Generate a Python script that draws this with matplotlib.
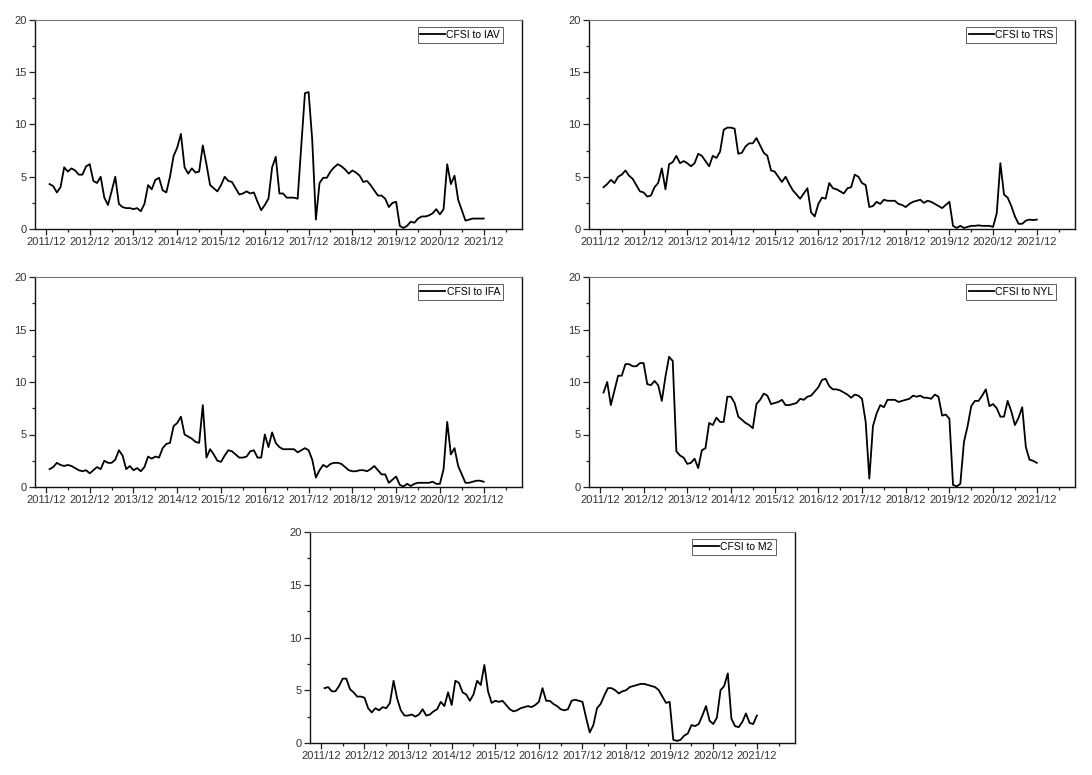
"""
Rolling spillover from CFSI to five indicators, monthly 2012/01 - 2021/12.
"""

import matplotlib.pyplot as plt
import numpy as np
from matplotlib.ticker import MultipleLocator

plt.rcParams['font.family'] = ['Liberation Sans', 'DejaVu Sans']

tick_labels = ['2011/12', '2012/12', '2013/12', '2014/12', '2015/12', '2016/12',
               '2017/12', '2018/12', '2019/12', '2020/12', '2021/12']

cfsi_iav = [
    4.3, 4.1, 3.5, 4.0, 5.9, 5.5, 5.8, 5.6, 5.2, 5.2, 6.0, 6.2,
    4.6, 4.4, 5.0, 3.0, 2.3, 3.6, 5.0, 2.4, 2.1, 2.0, 2.0, 1.9,
    2.0, 1.7, 2.4, 4.2, 3.8, 4.7, 4.9, 3.7, 3.5, 5.0, 7.0, 7.8,
    9.1, 5.9, 5.3, 5.8, 5.4, 5.5, 8.0, 6.2, 4.2, 3.9, 3.6, 4.2,
    5.0, 4.6, 4.5, 3.9, 3.3, 3.4, 3.6, 3.4, 3.5, 2.6, 1.8, 2.3,
    2.9, 5.9, 6.9, 3.4, 3.4, 3.0, 3.0, 3.0, 2.9, 8.0, 13.0, 13.1,
    8.5, 0.9, 4.4, 4.9, 4.9, 5.5, 5.9, 6.2, 6.0, 5.7, 5.3, 5.6,
    5.4, 5.1, 4.5, 4.6, 4.2, 3.7, 3.2, 3.2, 2.9, 2.1, 2.5, 2.6,
    0.3, 0.1, 0.3, 0.7, 0.6, 1.0, 1.2, 1.2, 1.3, 1.5, 1.9, 1.4,
    1.9, 6.2, 4.3, 5.1, 2.8, 1.8, 0.8, 0.9, 1.0, 1.0, 1.0, 1.0,
]

cfsi_trs = [
    4.0, 4.3, 4.7, 4.4, 5.0, 5.2, 5.6, 5.1, 4.8, 4.2, 3.6, 3.5,
    3.1, 3.2, 4.0, 4.4, 5.8, 3.8, 6.2, 6.4, 7.0, 6.3, 6.5, 6.3,
    6.0, 6.3, 7.2, 7.0, 6.5, 6.0, 7.0, 6.8, 7.4, 9.5, 9.7, 9.7,
    9.6, 7.2, 7.3, 7.9, 8.2, 8.2, 8.7, 8.0, 7.3, 7.0, 5.6, 5.5,
    5.0, 4.5, 5.0, 4.3, 3.7, 3.3, 2.9, 3.4, 3.9, 1.6, 1.2, 2.4,
    3.0, 2.9, 4.4, 3.9, 3.8, 3.6, 3.4, 3.9, 4.0, 5.2, 5.0, 4.4,
    4.2, 2.1, 2.2, 2.6, 2.4, 2.8, 2.7, 2.7, 2.7, 2.4, 2.3, 2.1,
    2.4, 2.6, 2.7, 2.8, 2.5, 2.7, 2.6, 2.4, 2.2, 2.0, 2.3, 2.6,
    0.3, 0.1, 0.3, 0.1, 0.2, 0.3, 0.3, 0.35, 0.3, 0.3, 0.3, 0.2,
    1.5, 6.3, 3.3, 3.0, 2.2, 1.2, 0.5, 0.5, 0.8, 0.9, 0.85, 0.9,
]

cfsi_ifa = [
    1.7, 1.9, 2.3, 2.1, 2.0, 2.1, 2.0, 1.8, 1.6, 1.5, 1.6, 1.3,
    1.6, 1.9, 1.7, 2.5, 2.3, 2.3, 2.6, 3.5, 3.0, 1.7, 2.0, 1.6,
    1.8, 1.5, 1.9, 2.9, 2.7, 2.9, 2.8, 3.7, 4.1, 4.2, 5.8, 6.1,
    6.7, 5.0, 4.8, 4.6, 4.3, 4.2, 7.8, 2.8, 3.6, 3.1, 2.5, 2.4,
    3.0, 3.5, 3.4, 3.1, 2.8, 2.8, 2.9, 3.4, 3.5, 2.8, 2.8, 5.0,
    3.8, 5.2, 4.2, 3.8, 3.6, 3.6, 3.6, 3.6, 3.3, 3.5, 3.7, 3.5,
    2.6, 0.9, 1.6, 2.1, 1.9, 2.2, 2.3, 2.3, 2.2, 1.9, 1.6, 1.5,
    1.5, 1.6, 1.6, 1.5, 1.7, 2.0, 1.6, 1.2, 1.2, 0.4, 0.7, 1.0,
    0.2, 0.05, 0.3, 0.1, 0.3, 0.4, 0.4, 0.4, 0.4, 0.5, 0.3, 0.3,
    1.7, 6.2, 3.1, 3.7, 2.0, 1.2, 0.4, 0.4, 0.5, 0.6, 0.6, 0.5,
]

cfsi_nyl = [
    9.0, 10.0, 7.8, 9.2, 10.6, 10.6, 11.7, 11.7, 11.5, 11.5, 11.8, 11.8,
    9.8, 9.7, 10.1, 9.7, 8.2, 10.5, 12.4, 12.0, 3.4, 3.0, 2.8, 2.2,
    2.3, 2.7, 1.8, 3.5, 3.7, 6.1, 5.9, 6.6, 6.2, 6.2, 8.6, 8.6,
    8.0, 6.7, 6.4, 6.1, 5.9, 5.6, 7.9, 8.3, 8.9, 8.7, 7.9, 8.0,
    8.1, 8.3, 7.8, 7.8, 7.9, 8.0, 8.4, 8.3, 8.6, 8.7, 9.1, 9.5,
    10.2, 10.3, 9.6, 9.3, 9.3, 9.2, 9.0, 8.8, 8.5, 8.8, 8.7, 8.4,
    6.2, 0.8, 5.8, 7.0, 7.8, 7.6, 8.3, 8.3, 8.3, 8.1, 8.2, 8.3,
    8.4, 8.7, 8.6, 8.7, 8.5, 8.5, 8.4, 8.8, 8.6, 6.8, 6.9, 6.5,
    0.2, 0.05, 0.3, 4.3, 5.8, 7.7, 8.2, 8.2, 8.7, 9.3, 7.7, 7.9,
    7.5, 6.7, 6.7, 8.2, 7.2, 5.9, 6.6, 7.6, 3.8, 2.6, 2.5, 2.3,
]

cfsi_m2 = [
    5.2, 5.3, 4.9, 4.9, 5.4, 6.1, 6.1, 5.1, 4.8, 4.4, 4.4, 4.3,
    3.3, 2.9, 3.3, 3.1, 3.4, 3.3, 3.8, 5.9, 4.2, 3.1, 2.6, 2.6,
    2.7, 2.5, 2.7, 3.2, 2.6, 2.7, 3.0, 3.2, 3.9, 3.5, 4.8, 3.6,
    5.9, 5.7, 4.8, 4.6, 4.0, 4.6, 5.9, 5.5, 7.4, 4.9, 3.8, 4.0,
    3.9, 4.0, 3.6, 3.2, 3.0, 3.1, 3.3, 3.4, 3.5, 3.4, 3.6, 3.9,
    5.2, 4.0, 4.0, 3.7, 3.5, 3.2, 3.1, 3.2, 4.0, 4.1, 4.0, 3.9,
    2.4, 1.0, 1.7, 3.3, 3.7, 4.5, 5.2, 5.2, 5.0, 4.7, 4.9, 5.0,
    5.3, 5.4, 5.5, 5.6, 5.6, 5.5, 5.4, 5.3, 5.0, 4.4, 3.8, 3.9,
    0.3, 0.2, 0.3, 0.7, 0.9, 1.7, 1.6, 1.8, 2.6, 3.5, 2.1, 1.8,
    2.4, 5.0, 5.4, 6.6, 2.3, 1.6, 1.5, 2.0, 2.8, 1.9, 1.8, 2.6,
]

series = [
    ('CFSI to IAV', cfsi_iav),
    ('CFSI to TRS', cfsi_trs),
    ('CFSI to IFA', cfsi_ifa),
    ('CFSI to NYL', cfsi_nyl),
    ('CFSI to M2', cfsi_m2),
]

# axes rectangles in pixels: left, top, right, bottom
W, H = 1092, 775
boxes = [
    (35, 20, 522, 229),
    (589, 20, 1075, 229),
    (35, 277, 522, 487),
    (589, 277, 1075, 487),
    (310, 532, 795, 743),
]


def style_axes(ax):
    ax.set_xlim(-3, 130.5)
    ax.set_ylim(0, 20)
    ax.set_xticks(np.arange(0, 121, 12))
    ax.set_xticklabels(tick_labels)
    ax.xaxis.set_minor_locator(MultipleLocator(6))
    ax.set_yticks([0, 5, 10, 15, 20])
    ax.yaxis.set_minor_locator(MultipleLocator(2.5))
    ax.tick_params(which='both', direction='out', labelsize=8,
                   colors='#222222', labelcolor='#333333', width=0.9)
    ax.tick_params(which='major', length=4, pad=2)
    ax.tick_params(which='minor', length=2.5)
    for side in ['left', 'bottom', 'right']:
        ax.spines[side].set_color('#111111')
        ax.spines[side].set_linewidth(1.0)
    ax.spines['top'].set_color('#777777')
    ax.spines['top'].set_linewidth(0.8)


fig = plt.figure(figsize=(W / 100, H / 100), dpi=100)

for (label, values), (l, t, r, b) in zip(series, boxes):
    ax = fig.add_axes([l / W, 1 - b / H, (r - l) / W, (b - t) / H])
    months = np.arange(1, len(values) + 1)
    ax.plot(months, values, color='black', linewidth=1.3, label=label)
    style_axes(ax)
    leg = ax.legend(loc='upper right', bbox_to_anchor=(0.96, 0.965),
                    fontsize=7.5, handlelength=2.4, handletextpad=0.1,
                    borderpad=0.25, borderaxespad=0, fancybox=False,
                    framealpha=1)
    leg.get_frame().set_edgecolor('#444444')
    leg.get_frame().set_linewidth(0.6)

fig.savefig('out.png', dpi=100)
